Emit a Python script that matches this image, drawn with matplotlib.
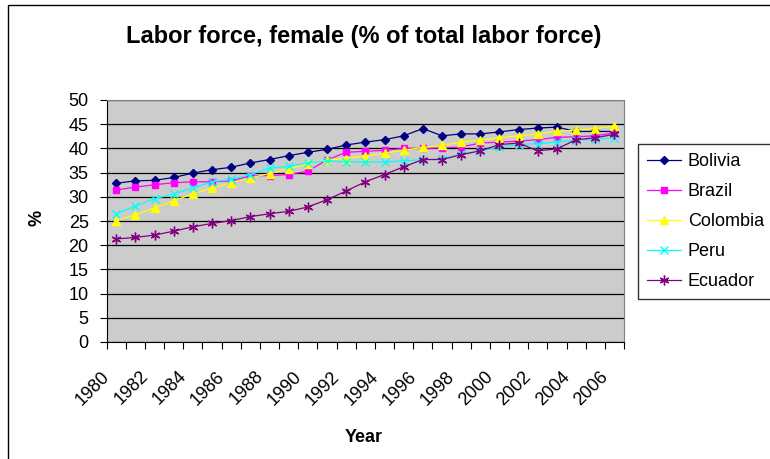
import numpy as np
import matplotlib
matplotlib.use("Agg")
import matplotlib.pyplot as plt
from matplotlib.patches import Rectangle
from matplotlib.transforms import ScaledTranslation

plt.rcParams['font.family'] = ['Liberation Sans', 'DejaVu Sans']

# years on the category axis
years = list(range(1980, 2007))
tick_labels = [str(y) for y in years if y % 2 == 0]

# female share of labour force
bolivia = [32.8, 33.3, 33.4, 34.0, 34.9, 35.6, 36.1, 37.0, 37.7, 38.5, 39.2, 39.8,
           40.7, 41.3, 41.8, 42.6, 44.1, 42.6, 43.0, 43.0, 43.4, 43.9, 44.2, 44.4,
           43.5, 43.5, 43.5]
brazil = [31.4, 32.0, 32.5, 32.9, 33.1, 33.1, 33.3, 34.3, 34.4, 34.6, 35.3, 37.6,
          39.2, 39.4, 39.6, 40.0, 40.0, 40.1, 40.3, 41.1, 41.3, 41.5, 41.8, 42.3,
          42.4, 42.6, 43.2]
colombia = [25.1, 26.3, 27.7, 29.2, 30.6, 31.8, 32.9, 33.9, 34.8, 35.8, 36.8, 37.6,
            37.9, 38.5, 39.0, 39.6, 40.2, 40.6, 41.3, 41.7, 42.2, 42.6, 43.0, 43.5,
            43.8, 44.1, 44.6]
peru = [26.5, 28.1, 29.6, 30.6, 31.8, 33.1, 33.6, 34.6, 35.9, 36.3, 37.0, 37.4,
        37.2, 37.2, 37.2, 37.4, 37.7, 37.8, 38.8, 39.5, 40.3, 40.8, 41.0, 41.3,
        41.7, 41.9, 42.2]
ecuador = [21.3, 21.6, 22.1, 22.9, 23.8, 24.5, 25.1, 25.9, 26.5, 27.0, 27.9, 29.4,
           31.2, 33.1, 34.6, 36.2, 37.7, 37.7, 38.7, 39.5, 40.8, 41.1, 39.5, 39.9,
           41.8, 42.2, 42.9]

series = [
    ("Bolivia", bolivia, "#000080", "D", 4.5),
    ("Brazil", brazil, "#FF00FF", "s", 5),
    ("Colombia", colombia, "#FFFF00", "^", 6),
    ("Peru", peru, "#00FFFF", "x", 6),
    ("Ecuador", ecuador, "#800080", (6, 2, 0), 7),
]

W, H = 770, 459
fig = plt.figure(figsize=(W / 100, H / 100), dpi=100)
ax = fig.add_axes([106.7 / W, 1 - 342 / H, (624 - 106.7) / W, (342 - 100) / H])
ax.set_facecolor("#CCCCCC")

x = np.arange(len(years))
for name, vals, col, mk, ms in series:
    ax.plot(x, vals, color=col, marker=mk, markersize=ms, linewidth=0.9,
            markeredgewidth=1.0, label=name)

ax.set_xlim(-0.5, len(years) - 0.5)
ax.set_ylim(0, 50)
ax.set_yticks(np.arange(0, 51, 5))
ax.yaxis.grid(True, color="black", linewidth=0.9)
ax.set_axisbelow(True)

# category boundaries get the tick marks, labels sit on the categories
ax.set_xticks(np.arange(-0.5, len(years), 1), minor=True)
ax.set_xticks([i for i, y in enumerate(years) if y % 2 == 0])
ax.set_xticklabels(tick_labels, rotation=45, ha="right", va="center",
                   rotation_mode="anchor", fontsize=13)
ax.tick_params(axis="x", which="major", length=0, pad=23)
ax.tick_params(axis="x", which="minor", length=5, width=0.8, direction="out")
ax.tick_params(axis="y", length=5, width=0.8, labelsize=13, pad=8)
shift = ScaledTranslation(-9 / 100, 0, fig.dpi_scale_trans)
for lab in ax.get_xticklabels():
    lab.set_transform(lab.get_transform() + shift)

for s in ["top", "right"]:
    ax.spines[s].set_color("#808080")
for s in ["left", "bottom"]:
    ax.spines[s].set_color("black")

fig.text(37 / W, 1 - 218 / H, "%", rotation=90, ha="center", va="center",
         fontsize=13, fontweight="bold")
fig.text(364 / W, 1 - 437 / H, "Year", ha="center", va="center",
         fontsize=13, fontweight="bold")
fig.text(364 / W, 1 - 37 / H, "Labor force, female (% of total labor force)",
         ha="center", va="center", fontsize=17, fontweight="bold")

leg = fig.legend(loc="upper left", bbox_to_anchor=(638 / W, 1 - 144 / H),
                 borderaxespad=0, fontsize=13, frameon=True, fancybox=False,
                 handlelength=1.9, labelspacing=0.72, borderpad=0.5,
                 handletextpad=0.35)
leg.get_frame().set_edgecolor("black")
leg.get_frame().set_linewidth(1.0)

# chart area outline, only the top and left edges fall inside the image
fig.add_artist(Rectangle((8 / W, -0.1), 1.2, 1.1 - 5 / H, transform=fig.transFigure,
                         fill=False, edgecolor="black", linewidth=1.0))

fig.savefig("out.png", dpi=100)
